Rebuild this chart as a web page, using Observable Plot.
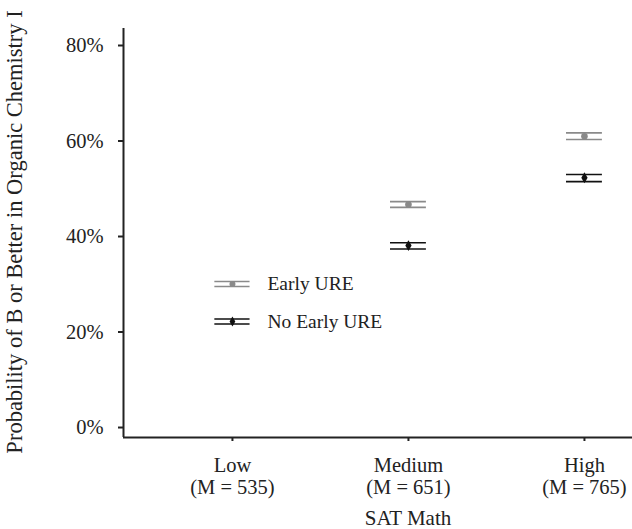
<!DOCTYPE html>
<html>
<head>
<meta charset="utf-8">
<script src="https://cdn.jsdelivr.net/npm/d3@7"></script>
<script src="https://cdn.jsdelivr.net/npm/@observablehq/plot@0.6"></script>
<style>
  html, body { margin: 0; padding: 0; background: #fff; }
</style>
</head>
<body>
<div id="chart"></div>
<script>
// ---- data ----
const categories = ["Low", "Medium", "High"];
const meanSAT = ["535", "651", "765"];
const groups = ["Early URE", "No Early URE"];
const rowCategory = ["Medium", "Medium", "High", "High"];
const rowGroup = ["Early URE", "No Early URE", "Early URE", "No Early URE"];
const estimate = [46.7, 38.1, 61.0, 52.3];
const lower = [46.1, 37.4, 60.3, 51.5];
const upper = [47.3, 38.7, 61.7, 53.0];
const yTicks = [0, 20, 40, 60, 80];
const yLabel = "Probability of B or Better in Organic Chemistry I";
const xLabel = "SAT Math";

const rows = estimate.map((e, i) => ({
  cat: rowCategory[i], group: rowGroup[i], est: e, lo: lower[i], hi: upper[i]
}));
const legendRows = groups.map((g, i) => ({group: g, cat: "Low", i}));

const xi = d => categories.indexOf(d.cat);
const half = 0.102;
const xDomain = [-0.619, 2.273];
const yDomain = [-2.09, 83.56];
const serif = "'Liberation Serif', 'DejaVu Serif', serif";
const colors = ["#8a8a8a", "#111111"];
// legend rows sit in the Low column
const legendY = d => [30.05, 22.2][d.i];

const chart = Plot.plot({
  width: 632,
  height: 529,
  marginLeft: 123,
  marginRight: 0,
  marginTop: 28,
  marginBottom: 92,
  style: {fontFamily: serif, fontSize: "20.5px", color: "#222", background: "#fff"},
  x: {domain: xDomain},
  y: {domain: yDomain},
  color: {domain: groups, range: colors},
  symbol: {domain: groups, range: ["circle", "diamond"]},
  marks: [
    Plot.axisY({ticks: yTicks, tickFormat: d => d + "%", tickSize: 5, tickPadding: 15, strokeWidth: 2, label: null, fill: "#222"}),
    Plot.axisX({ticks: [0, 1, 2], tickFormat: i => categories[i] + "\n(M = " + meanSAT[i] + ")", tickSize: 4, tickPadding: 14, strokeWidth: 2, lineHeight: 1.1, label: null, fill: "#222"}),
    Plot.ruleX([xDomain[0]], {y1: yDomain[0], y2: yDomain[1], stroke: "#222", strokeWidth: 2}),
    Plot.ruleY([yDomain[0]], {x1: xDomain[0], x2: xDomain[1], stroke: "#222", strokeWidth: 2}),
    // error bar caps
    Plot.ruleY(rows, {x1: d => xi(d) - half, x2: d => xi(d) + half, y: "lo", stroke: "group", strokeWidth: 1.6}),
    Plot.ruleY(rows, {x1: d => xi(d) - half, x2: d => xi(d) + half, y: "hi", stroke: "group", strokeWidth: 1.6}),
    Plot.dot(rows, {x: xi, y: "est", symbol: "group", fill: "group", r: 3.3}),
    // legend
    Plot.ruleY(legendRows, {x1: d => xi(d) - 0.1, x2: d => xi(d) + 0.1, y: legendY, dy: -2.5, stroke: "group", strokeWidth: 1.6}),
    Plot.ruleY(legendRows, {x1: d => xi(d) - 0.1, x2: d => xi(d) + 0.1, y: legendY, dy: 2.5, stroke: "group", strokeWidth: 1.6}),
    Plot.dot(legendRows, {x: xi, y: legendY, symbol: "group", fill: "group", r: 3.0}),
    Plot.text(legendRows, {x: xi, y: legendY, text: "group", dx: 35, textAnchor: "start", fill: "#222", fontSize: 19.5}),
    // axis titles
    Plot.text([yLabel], {frameAnchor: "left", textAnchor: "middle", rotate: -90, dx: -109, dy: -1, fontSize: 22.5, fill: "#222"}),
    Plot.text([xLabel], {frameAnchor: "bottom", textAnchor: "middle", dx: 30, dy: 87, fontSize: 21, fill: "#222"})
  ]
});
document.getElementById("chart").appendChild(chart);
</script>
</body>
</html>
